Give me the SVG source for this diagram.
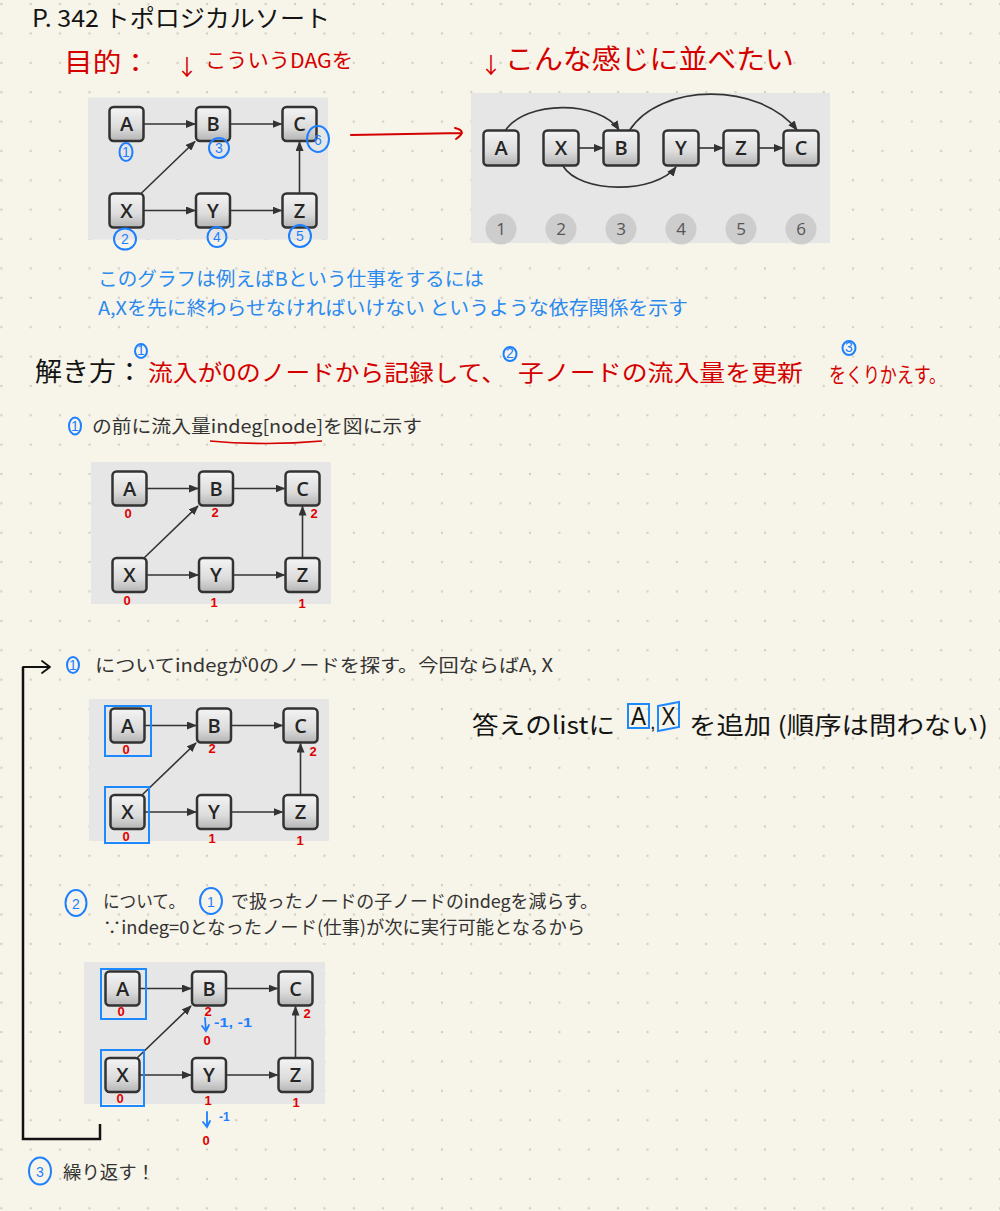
<svg xmlns="http://www.w3.org/2000/svg" width="1000" height="1211" viewBox="0 0 1000 1211">
<style>
.jp{font-family:"Noto Sans CJK JP","Noto Sans",sans-serif}
.hwk{fill:#141414}
.hwr{fill:#d40000}
.blt{fill:#2a8af0}
.body{fill:#333;font-size:18px}
.img{fill:#e6e6e6}
.nd rect{fill:url(#ng);stroke:#333;stroke-width:2.5}
.nd text{font-family:"Open Sans","Liberation Sans",sans-serif;font-weight:600;font-size:20px;fill:#252525;text-anchor:middle}
.e{stroke:#333;stroke-width:1.6;fill:none;marker-end:url(#ah)}
.rn{font-family:"Liberation Sans",sans-serif;font-weight:bold;font-size:13px;fill:#e00000;text-anchor:middle}
.bc{fill:none;stroke:#1e80ff;stroke-width:2}
.bd{font-family:"Liberation Sans",sans-serif;font-size:14px;fill:#1e80ff;text-anchor:middle}
.bx{fill:none;stroke:#1e88ff;stroke-width:2}
.num{fill:#cdcdcd}
.numt{font-family:"Open Sans","Liberation Sans",sans-serif;font-size:17px;fill:#555;text-anchor:middle}
</style>
<defs>
<pattern id="dots" x="-13.3" y="-10.6" width="29.37" height="29.37" patternUnits="userSpaceOnUse">
<circle cx="14.685" cy="14.685" r="1.2" fill="#d2cec6"/>
</pattern>
<linearGradient id="ng" x1="0" y1="0" x2="0" y2="1">
<stop offset="0" stop-color="#f4f4f4"/>
<stop offset="0.6" stop-color="#dcdcdc"/>
<stop offset="1" stop-color="#b4b4b4"/>
</linearGradient>
<marker id="ah" viewBox="0 0 10 8" refX="9" refY="4" markerWidth="10" markerHeight="8" markerUnits="userSpaceOnUse" orient="auto">
<path d="M0,0 L10,4 L0,8 z" fill="#333"/>
</marker>
</defs>

<rect width="1000" height="1211" fill="#f7f4e9"/>
<rect width="1000" height="1211" fill="url(#dots)"/>

<!-- Title -->
<text class="jp hwk" x="32" y="27" font-size="24" textLength="298" lengthAdjust="spacingAndGlyphs">P. 342  トポロジカルソート</text>
<text class="jp hwr" x="64" y="72" font-size="26" textLength="86" lengthAdjust="spacingAndGlyphs">目的：</text>
<text class="jp hwr" x="176" y="75" font-size="22">↓</text>
<text class="jp hwr" x="205" y="68" font-size="20" textLength="148" lengthAdjust="spacingAndGlyphs">こういうDAGを</text>
<text class="jp hwr" x="480" y="73" font-size="22">↓</text>
<text class="jp hwr" x="505" y="69" font-size="27" textLength="289" lengthAdjust="spacingAndGlyphs">こんな感じに並べたい</text>

<!-- Graph 1 -->
<g id="graph1" transform="translate(88,97.5)">
<rect class="img" width="240" height="142"/>
<g id="g1-edges">
<path class="e" d="M55.5 26.5 L107 26.5"/>
<path class="e" d="M142 26.5 L193.5 26.5"/>
<path class="e" d="M55.5 113 L107 113"/>
<path class="e" d="M142 113 L193.5 113"/>
<path class="e" d="M53 96 L107 44"/>
<path class="e" d="M211.5 96 L211.5 44.5"/>
</g>
<g id="g1-A" class="nd"><rect x="21.5" y="9.5" width="34" height="34" rx="4"/><text x="38.5" y="33.5">A</text></g>
<g id="g1-B" class="nd"><rect x="108" y="9.5" width="34" height="34" rx="4"/><text x="125" y="33.5">B</text></g>
<g id="g1-C" class="nd"><rect x="194.5" y="9.5" width="34" height="34" rx="4"/><text x="211.5" y="33.5">C</text></g>
<g id="g1-X" class="nd"><rect x="21.5" y="96" width="34" height="34" rx="4"/><text x="38.5" y="120">X</text></g>
<g id="g1-Y" class="nd"><rect x="108" y="96" width="34" height="34" rx="4"/><text x="125" y="120">Y</text></g>
<g id="g1-Z" class="nd"><rect x="194.5" y="96" width="34" height="34" rx="4"/><text x="211.5" y="120">Z</text></g>
</g>
<g id="g1-order">
<ellipse class="bc" cx="126" cy="152" rx="6.5" ry="9"/><text class="bd" x="126" y="157">1</text>
<ellipse class="bc" cx="219" cy="148" rx="10" ry="10"/><text class="bd" x="219" y="153">3</text>
<ellipse class="bc" cx="318" cy="139" rx="11" ry="13"/><text class="bd" x="318" y="145">6</text>
<ellipse class="bc" cx="125" cy="239" rx="11" ry="10.5"/><text class="bd" x="125" y="244">2</text>
<ellipse class="bc" cx="217" cy="237" rx="9.5" ry="10"/><text class="bd" x="217" y="242">4</text>
<ellipse class="bc" cx="300" cy="236" rx="11" ry="11"/><text class="bd" x="300" y="241">5</text>
</g>

<!-- red arrow -->
<path d="M351 135 L462 133 M455 128 Q468 131 456 139" fill="none" stroke="#d40000" stroke-width="2" stroke-linecap="round"/>

<!-- Graph sorted -->
<g id="graph-sorted">
<rect class="img" x="471" y="93" width="359" height="150" fill="#e4e4e4"/>
<g id="gs-edges">
<path class="e" d="M505 131 C525 100, 600 100, 619 130"/>
<path class="e" d="M629 131 C660 82, 760 82, 797 130"/>
<path class="e" d="M563 166 C580 194, 655 194, 676 167"/>
<path class="e" d="M579 148 L603 148"/>
<path class="e" d="M699 148 L723 148"/>
<path class="e" d="M759 148 L783 148"/>
</g>
<g id="gs-A" class="nd"><rect x="483.5" y="130.5" width="35" height="35" rx="4"/><text x="501" y="155">A</text></g>
<g id="gs-X" class="nd"><rect x="543.5" y="130.5" width="35" height="35" rx="4"/><text x="561" y="155">X</text></g>
<g id="gs-B" class="nd"><rect x="603.5" y="130.5" width="35" height="35" rx="4"/><text x="621" y="155">B</text></g>
<g id="gs-Y" class="nd"><rect x="663.5" y="130.5" width="35" height="35" rx="4"/><text x="681" y="155">Y</text></g>
<g id="gs-Z" class="nd"><rect x="723.5" y="130.5" width="35" height="35" rx="4"/><text x="741" y="155">Z</text></g>
<g id="gs-C" class="nd"><rect x="783.5" y="130.5" width="35" height="35" rx="4"/><text x="801" y="155">C</text></g>
<g id="gs-nums">
<circle class="num" cx="501" cy="229" r="15.5"/><text class="numt" x="501" y="235">1</text>
<circle class="num" cx="561" cy="229" r="15.5"/><text class="numt" x="561" y="235">2</text>
<circle class="num" cx="621" cy="229" r="15.5"/><text class="numt" x="621" y="235">3</text>
<circle class="num" cx="681" cy="229" r="15.5"/><text class="numt" x="681" y="235">4</text>
<circle class="num" cx="741" cy="229" r="15.5"/><text class="numt" x="741" y="235">5</text>
<circle class="num" cx="801" cy="229" r="15.5"/><text class="numt" x="801" y="235">6</text>
</g>
</g>

<!-- blue explanation -->
<text class="jp blt" x="98" y="286" font-size="19" textLength="386" lengthAdjust="spacingAndGlyphs">このグラフは例えばBという仕事をするには</text>
<text class="jp blt" x="98" y="315" font-size="19" textLength="590" lengthAdjust="spacingAndGlyphs">A,Xを先に終わらせなければいけない というような依存関係を示す</text>

<!-- 解き方 -->
<text class="jp hwk" x="35" y="381" font-size="26" textLength="108" lengthAdjust="spacingAndGlyphs">解き方：</text>
<text class="jp hwr" x="148" y="381" font-size="23" textLength="358" lengthAdjust="spacingAndGlyphs">流入が0のノードから記録して、</text>
<text class="jp hwr" x="518" y="381" font-size="23" textLength="285" lengthAdjust="spacingAndGlyphs">子ノードの流入量を更新</text>
<text class="jp hwr" x="829" y="382" font-size="21" textLength="117" lengthAdjust="spacingAndGlyphs">をくりかえす。</text>
<ellipse class="bc" cx="141" cy="351" rx="6" ry="7" stroke-width="1.5"/><text class="bd" x="141" y="355" font-size="10">1</text>
<ellipse class="bc" cx="510" cy="354" rx="6.5" ry="7" stroke-width="1.5"/><text class="bd" x="510" y="358" font-size="10">2</text>
<ellipse class="bc" cx="849" cy="348" rx="6.5" ry="7" stroke-width="1.5"/><text class="bd" x="849" y="352" font-size="10">3</text>

<!-- step 0 -->
<ellipse class="bc" cx="75" cy="426" rx="6" ry="8.5"/><text class="bd" x="75" y="431" font-size="12">1</text>
<text class="jp body" x="92" y="433" textLength="330" lengthAdjust="spacingAndGlyphs">の前に流入量indeg[node]を図に示す</text>
<path d="M210 441 Q266 446 322 441" fill="none" stroke="#d40000" stroke-width="1.6"/>

<!-- Graph 2 -->
<g id="graph2" transform="translate(91,462)">
<rect class="img" width="240" height="142"/>
<g id="g2-edges">
<path class="e" d="M55.5 26.5 L107 26.5"/>
<path class="e" d="M142 26.5 L193.5 26.5"/>
<path class="e" d="M55.5 113 L107 113"/>
<path class="e" d="M142 113 L193.5 113"/>
<path class="e" d="M53 96 L107 44"/>
<path class="e" d="M211.5 96 L211.5 44.5"/>
</g>
<g id="g2-A" class="nd"><rect x="21.5" y="9.5" width="34" height="34" rx="4"/><text x="38.5" y="33.5">A</text></g>
<g id="g2-B" class="nd"><rect x="108" y="9.5" width="34" height="34" rx="4"/><text x="125" y="33.5">B</text></g>
<g id="g2-C" class="nd"><rect x="194.5" y="9.5" width="34" height="34" rx="4"/><text x="211.5" y="33.5">C</text></g>
<g id="g2-X" class="nd"><rect x="21.5" y="96" width="34" height="34" rx="4"/><text x="38.5" y="120">X</text></g>
<g id="g2-Y" class="nd"><rect x="108" y="96" width="34" height="34" rx="4"/><text x="125" y="120">Y</text></g>
<g id="g2-Z" class="nd"><rect x="194.5" y="96" width="34" height="34" rx="4"/><text x="211.5" y="120">Z</text></g>
</g>
<g id="g2-indeg">
<text class="rn" x="128" y="518">0</text>
<text class="rn" x="215" y="517">2</text>
<text class="rn" x="314" y="518">2</text>
<text class="rn" x="127" y="605">0</text>
<text class="rn" x="214" y="607">1</text>
<text class="rn" x="302" y="608">1</text>
</g>

<!-- step 1 -->
<path d="M23 667 L23 1139 L100 1139 L100 1124" fill="none" stroke="#111" stroke-width="2.5"/>
<path d="M23 667 L49 667 M42 661 L50 667 L42 673" fill="none" stroke="#111" stroke-width="1.8" stroke-linecap="round" stroke-linejoin="round"/>
<ellipse class="bc" cx="73" cy="665" rx="6" ry="8"/><text class="bd" x="73" y="670" font-size="12">1</text>
<text class="jp body" x="95" y="672" font-size="17" textLength="458" lengthAdjust="spacingAndGlyphs">についてindegが0のノードを探す。今回ならばA, X</text>

<!-- Graph 3 -->
<g id="graph3" transform="translate(89,699)">
<rect class="img" width="240" height="142"/>
<g id="g3-edges">
<path class="e" d="M55.5 26.5 L107 26.5"/>
<path class="e" d="M142 26.5 L193.5 26.5"/>
<path class="e" d="M55.5 113 L107 113"/>
<path class="e" d="M142 113 L193.5 113"/>
<path class="e" d="M53 96 L107 44"/>
<path class="e" d="M211.5 96 L211.5 44.5"/>
</g>
<g id="g3-A" class="nd"><rect x="21.5" y="9.5" width="34" height="34" rx="4"/><text x="38.5" y="33.5">A</text></g>
<g id="g3-B" class="nd"><rect x="108" y="9.5" width="34" height="34" rx="4"/><text x="125" y="33.5">B</text></g>
<g id="g3-C" class="nd"><rect x="194.5" y="9.5" width="34" height="34" rx="4"/><text x="211.5" y="33.5">C</text></g>
<g id="g3-X" class="nd"><rect x="21.5" y="96" width="34" height="34" rx="4"/><text x="38.5" y="120">X</text></g>
<g id="g3-Y" class="nd"><rect x="108" y="96" width="34" height="34" rx="4"/><text x="125" y="120">Y</text></g>
<g id="g3-Z" class="nd"><rect x="194.5" y="96" width="34" height="34" rx="4"/><text x="211.5" y="120">Z</text></g>
</g>
<rect class="bx" x="105" y="706" width="46" height="50"/>
<rect class="bx" x="105" y="787" width="44" height="56"/>
<g id="g3-indeg">
<text class="rn" x="126" y="754">0</text>
<text class="rn" x="212" y="753">2</text>
<text class="rn" x="313" y="756">2</text>
<text class="rn" x="126" y="841">0</text>
<text class="rn" x="212" y="843">1</text>
<text class="rn" x="300" y="845">1</text>
</g>

<!-- answer list note -->
<text class="jp hwk" x="472" y="734" font-size="24" textLength="143" lengthAdjust="spacingAndGlyphs">答えのlistに</text>
<text x="638.5" y="725" font-family="Liberation Sans,sans-serif" font-size="25" fill="#141414" text-anchor="middle" textLength="15" lengthAdjust="spacingAndGlyphs">A</text>
<text x="650" y="729" font-family="Liberation Sans,sans-serif" font-size="20" fill="#141414">,</text>
<text x="668.5" y="725" font-family="Liberation Sans,sans-serif" font-size="25" fill="#141414" text-anchor="middle" textLength="14" lengthAdjust="spacingAndGlyphs">X</text>
<rect class="bx" x="628" y="704" width="21" height="24"/>
<path class="bx" d="M658 706 L679 702 L679 727 L658 731 Z"/>
<text class="jp hwk" x="689" y="734" font-size="24" textLength="299" lengthAdjust="spacingAndGlyphs">を追加 (順序は問わない)</text>

<!-- step 2 -->
<ellipse class="bc" cx="76" cy="903" rx="10.5" ry="13"/><text class="bd" x="76" y="909" font-size="16">2</text>
<text class="jp body" x="103" y="908" font-size="17" textLength="82" lengthAdjust="spacingAndGlyphs">について。</text>
<ellipse class="bc" cx="211" cy="901" rx="11" ry="13"/><text class="bd" x="211" y="907" font-size="16">1</text>
<text class="jp body" x="231" y="908" font-size="17" textLength="367" lengthAdjust="spacingAndGlyphs">で扱ったノードの子ノードのindegを減らす。</text>
<text class="jp body" x="103" y="934" font-size="17" textLength="482" lengthAdjust="spacingAndGlyphs">∵indeg=0となったノード(仕事)が次に実行可能となるから</text>

<!-- Graph 4 -->
<g id="graph4" transform="translate(84,962)">
<rect class="img" width="241" height="142"/>
<g id="g4-edges">
<path class="e" d="M55.5 26.5 L107 26.5"/>
<path class="e" d="M142 26.5 L193.5 26.5"/>
<path class="e" d="M55.5 113 L107 113"/>
<path class="e" d="M142 113 L193.5 113"/>
<path class="e" d="M53 96 L107 44"/>
<path class="e" d="M211.5 96 L211.5 44.5"/>
</g>
<g id="g4-A" class="nd"><rect x="21.5" y="9.5" width="34" height="34" rx="4"/><text x="38.5" y="33.5">A</text></g>
<g id="g4-B" class="nd"><rect x="108" y="9.5" width="34" height="34" rx="4"/><text x="125" y="33.5">B</text></g>
<g id="g4-C" class="nd"><rect x="194.5" y="9.5" width="34" height="34" rx="4"/><text x="211.5" y="33.5">C</text></g>
<g id="g4-X" class="nd"><rect x="21.5" y="96" width="34" height="34" rx="4"/><text x="38.5" y="120">X</text></g>
<g id="g4-Y" class="nd"><rect x="108" y="96" width="34" height="34" rx="4"/><text x="125" y="120">Y</text></g>
<g id="g4-Z" class="nd"><rect x="194.5" y="96" width="34" height="34" rx="4"/><text x="211.5" y="120">Z</text></g>
</g>
<rect class="bx" x="101" y="969" width="45" height="50"/>
<rect class="bx" x="101" y="1050" width="43" height="56"/>
<g id="g4-indeg">
<text class="rn" x="121" y="1016">0</text>
<text class="rn" x="208" y="1016">2</text>
<text class="rn" x="307" y="1018">2</text>
<text class="rn" x="207" y="1045">0</text>
<text class="rn" x="120" y="1103">0</text>
<text class="rn" x="208" y="1105">1</text>
<text class="rn" x="296" y="1107">1</text>
<text class="rn" x="206" y="1145">0</text>
</g>
<g id="g4-dec" fill="none" stroke="#1e80ff" stroke-width="1.8" stroke-linecap="round">
<path d="M205 1018 L206 1031 M202 1026 L206 1031 L209 1025"/>
<path d="M207 1112 L207 1127 M203 1122 L207 1127 L210 1121"/>
</g>
<text x="214" y="1027" font-family="Liberation Sans,sans-serif" font-size="12" font-weight="bold" fill="#1e80ff" textLength="38" lengthAdjust="spacingAndGlyphs">-1, -1</text>
<text x="219" y="1121" font-family="Liberation Sans,sans-serif" font-size="12" font-weight="bold" fill="#1e80ff">-1</text>

<!-- step 3 -->
<ellipse class="bc" cx="40" cy="1171" rx="11" ry="13.5"/><text class="bd" x="40" y="1177" font-size="16">3</text>
<text class="jp body" x="63" y="1179" font-size="19" textLength="92" lengthAdjust="spacingAndGlyphs">繰り返す！</text>
</svg>
